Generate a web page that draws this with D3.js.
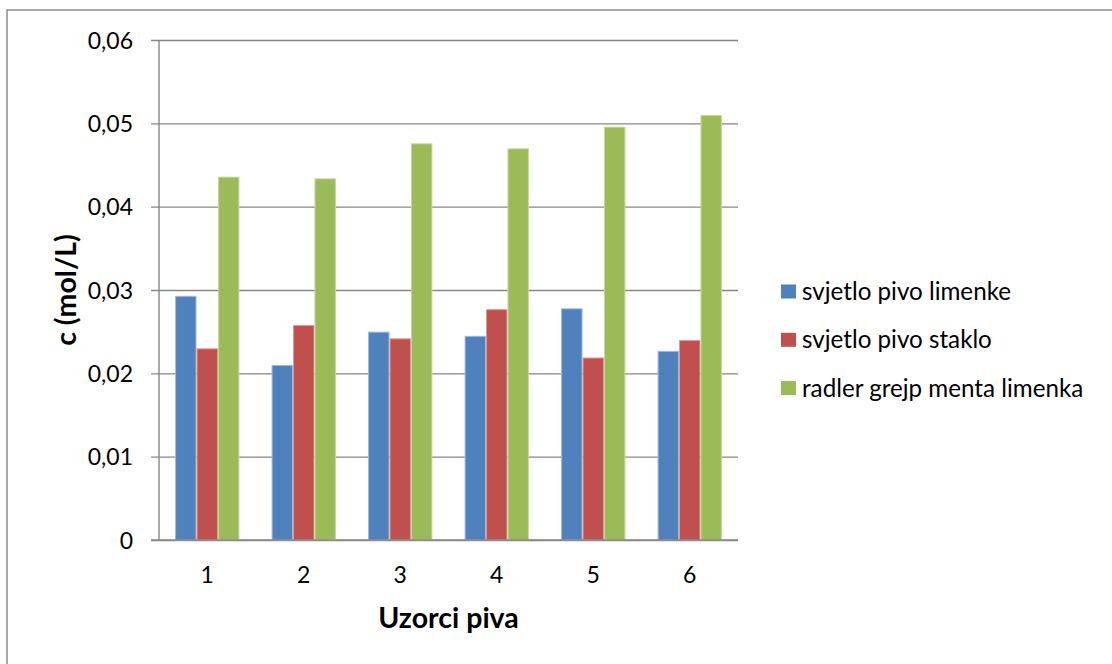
<!DOCTYPE html>
<html>
<head>
<meta charset="utf-8">
<script src="https://cdn.jsdelivr.net/npm/d3@7"></script>
<style>
  body { margin: 0; background: #fff; }
  text { font-family: Lato, "Open Sans", sans-serif; fill: #000; }
</style>
</head>
<body>
<svg id="chart" width="1112" height="664"></svg>
<script>
var categories = ["1", "2", "3", "4", "5", "6"];
var seriesNames = ["svjetlo pivo limenke", "svjetlo pivo staklo", "radler grejp menta limenka"];
var limenke = [0.0293, 0.0210, 0.0250, 0.0245, 0.0278, 0.0227];
var staklo = [0.0230, 0.0258, 0.0242, 0.0277, 0.0219, 0.0240];
var radler = [0.0436, 0.0434, 0.0476, 0.0470, 0.0496, 0.0510];
var yTicks = [0, 0.01, 0.02, 0.03, 0.04, 0.05, 0.06];
var colors = ["#4F81BD", "#C0504D", "#9BBB59"];
var edges = ["#9fb9dc", "#dc9a98", "#c4d89e"];

var svg = d3.select("#chart");
var pL = 159, pR = 738, pT = 40, pB = 540;

// outer frame (runs off the bottom/right of the image)
svg.append("rect")
    .attr("x", 7).attr("y", 10)
    .attr("width", 1300).attr("height", 900)
    .attr("fill", "none")
    .attr("stroke", "#8c8c8c")
    .attr("stroke-width", 1.5);

var y = d3.scaleLinear().domain([0, 0.06]).range([pB, pT]);
var x0 = d3.scaleBand().domain(categories).range([pL, pR])
    .paddingInner(1 / 3).paddingOuter(1 / 6);
var x1 = d3.scaleBand().domain(d3.range(3)).range([0, x0.bandwidth()]);

var fmt = function(d) { return d === 0 ? "0" : d3.format(".2f")(d).replace(".", ","); };

// gridlines + y ticks
var yAxis = d3.axisLeft(y).tickValues(yTicks).tickFormat(fmt)
    .tickSize(-(pR - pL + 8)).tickPadding(18);
var gy = svg.append("g").attr("transform", "translate(" + (pL - 8) + ",0)").call(yAxis);
gy.select(".domain").remove();
gy.selectAll(".tick line").attr("stroke", "#878787").attr("stroke-width", 1.4);
gy.selectAll(".tick text").attr("font-size", 23).attr("x", -18).attr("dy", "0.35em")
    .attr("fill", "#000")
    .style("font-family", "Lato, sans-serif");

// y axis line
svg.append("line")
    .attr("x1", pL).attr("x2", pL).attr("y1", pT).attr("y2", pB)
    .attr("stroke", "#878787").attr("stroke-width", 1.4);

var data = categories.map(function(c, i) {
    return { cat: c, vals: [limenke[i], staklo[i], radler[i]] };
});

var groups = svg.selectAll(".grp").data(data).enter().append("g")
    .attr("class", "grp")
    .attr("transform", function(d) { return "translate(" + x0(d.cat) + ",0)"; });

groups.selectAll("rect").data(function(d) { return d.vals; }).enter().append("rect")
    .attr("x", function(d, i) { return x1(i) + 0.5; })
    .attr("y", function(d) { return y(d) + 0.5; })
    .attr("width", x1.bandwidth() - 1)
    .attr("height", function(d) { return pB - y(d) - 0.5; })
    .attr("fill", function(d, i) { return colors[i]; })
    .attr("stroke", function(d, i) { return edges[i]; })
    .attr("stroke-width", 1);

// x axis baseline
svg.append("line")
    .attr("x1", pL - 8).attr("x2", pR).attr("y1", pB).attr("y2", pB)
    .attr("stroke", "#878787").attr("stroke-width", 1.4);

// x tick labels
svg.selectAll(".xlab").data(categories).enter().append("text")
    .attr("class", "xlab")
    .attr("x", function(d) { return x0(d) + x0.bandwidth() / 2; })
    .attr("y", 583)
    .attr("text-anchor", "middle")
    .attr("font-size", 23)
    .text(function(d) { return d; });

// axis titles
svg.append("text")
    .attr("x", (pL + pR) / 2).attr("y", 628)
    .attr("text-anchor", "middle")
    .attr("font-size", 28.5).attr("font-weight", "bold")
    .text("Uzorci piva");

svg.append("text")
    .attr("transform", "translate(76," + (pT + pB) / 2 + ") rotate(-90)")
    .attr("text-anchor", "middle")
    .attr("font-size", 28.5).attr("font-weight", "bold")
    .text("c (mol/L)");

// legend
var legend = svg.selectAll(".leg").data(seriesNames).enter().append("g")
    .attr("class", "leg")
    .attr("transform", function(d, i) { return "translate(781," + (291.5 + i * 48.3) + ")"; });
legend.append("rect")
    .attr("x", 0).attr("y", -7).attr("width", 15).attr("height", 14)
    .attr("fill", function(d, i) { return colors[i]; });
legend.append("text")
    .attr("x", 21).attr("y", 0).attr("dy", "0.35em")
    .attr("font-size", 24.2)
    .text(function(d) { return d; });
</script>
</body>
</html>
